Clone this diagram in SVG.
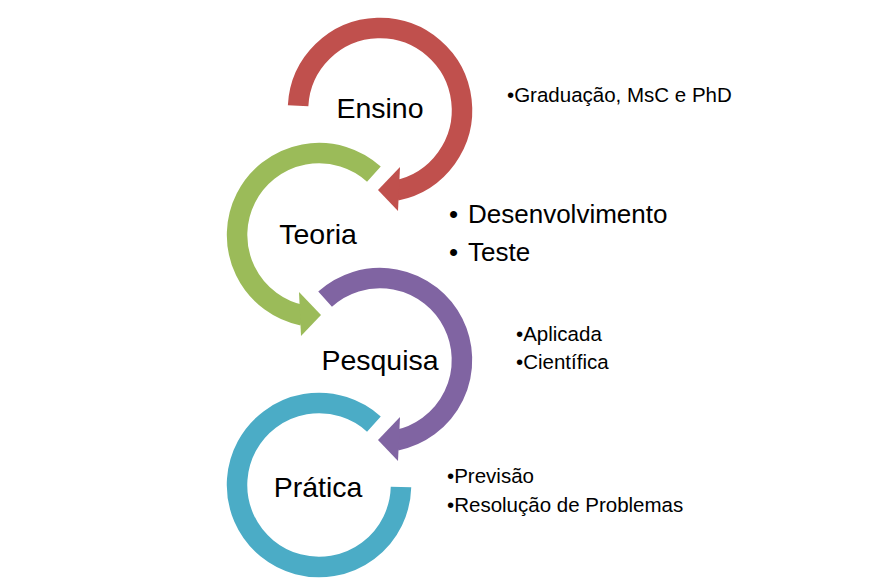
<svg xmlns="http://www.w3.org/2000/svg" width="884" height="581" viewBox="0 0 884 581">
<style>
.arc{fill:none;stroke-width:20.5;stroke-linecap:butt}
.big{font-family:"Liberation Sans",Arial,sans-serif;font-size:28.5px;fill:#000;text-anchor:middle}
.sm{font-family:"Liberation Sans",Arial,sans-serif;font-size:20.5px;fill:#000}
.md{font-family:"Liberation Sans",Arial,sans-serif;font-size:26px;fill:#000}
</style>
<rect width="884" height="581" fill="#fff"/>
<g id="connectors">
<g id="arrow-ensino">
<path class="arc" stroke="#C0504D" d="M298.1,105.7 A82,82 0 1 1 396.3,190.4"/>
<polygon fill="#C0504D" points="400,167 398,211 378,190"/>
</g>
<g id="arrow-teoria">
<path class="arc" stroke="#9BBB59" d="M373.9,174.1 A82,82 0 1 0 302.6,315.4"/>
<polygon fill="#9BBB59" points="299,292 301,336 321,315"/>
</g>
<g id="arrow-pesquisa">
<path class="arc" stroke="#8064A2" d="M325.1,299.1 A82,82 0 1 1 396.3,440.4"/>
<polygon fill="#8064A2" points="400,417 398,461 378,440"/>
</g>
<g id="arrow-pratica">
<path class="arc" stroke="#4BACC6" d="M373.9,424.1 A82,82 0 1 0 401.0,487.1"/>
</g>
</g>
<g id="node-ensino">
<text class="big" x="380" y="118">Ensino</text>
<text class="sm" x="507" y="101.5">•Graduação, MsC e PhD</text>
</g>
<g id="node-teoria">
<text class="big" x="318" y="244">Teoria</text>
<text class="md" x="449" y="223">•</text>
<text class="md" x="468" y="223">Desenvolvimento</text>
<text class="md" x="449" y="261">•</text>
<text class="md" x="468" y="261">Teste</text>
</g>
<g id="node-pesquisa">
<text class="big" x="380" y="370">Pesquisa</text>
<text class="sm" x="516" y="341">•Aplicada</text>
<text class="sm" x="516" y="369">•Científica</text>
</g>
<g id="node-pratica">
<text class="big" x="318" y="497">Prática</text>
<text class="sm" x="447" y="483">•Previsão</text>
<text class="sm" x="447" y="512">•Resolução de Problemas</text>
</g>
</svg>
